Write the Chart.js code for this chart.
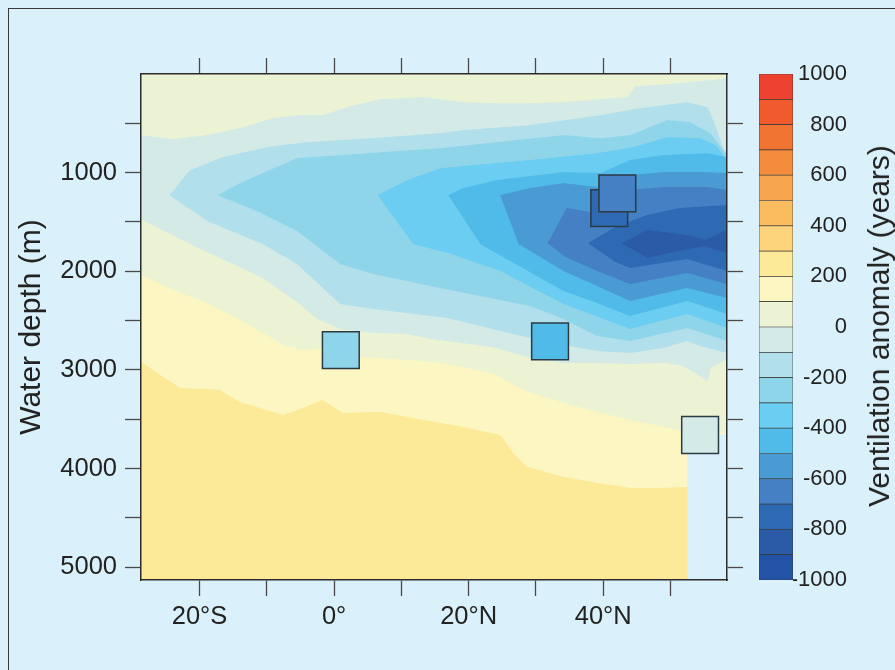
<!DOCTYPE html>
<html>
<head>
<meta charset="utf-8">
<script src="https://cdn.jsdelivr.net/npm/chart.js@4.4.0/dist/chart.umd.min.js"></script>
<style>
  html, body { margin: 0; padding: 0; }
  body {
    width: 895px; height: 670px; overflow: hidden; position: relative;
    background: #daf0fa;
    font-family: "Liberation Sans", Arial, sans-serif;
  }
  #frame {
    position: absolute; left: 8px; top: 8px; width: 920px; height: 700px;
    border-left: 1px solid #3a3a3a; border-top: 1px solid #3a3a3a;
  }
  #main { position: absolute; left: 0; top: 0; }
  #bar  { position: absolute; left: 740px; top: 0; }
  #barTitle {
    position: absolute; left: 879px; top: 326px;
    transform: translate(-50%, -50%) rotate(-90deg);
    white-space: nowrap; font-size: 30px; color: #222;
  }
</style>
</head>
<body>
<div id="frame"></div>
<canvas id="main" width="895" height="670"></canvas>
<canvas id="bar" width="155" height="670"></canvas>
<div id="barTitle">Ventilation anomaly (years)</div>

<script>
/* ============================================================
   DATA  (latitude in degrees, negative = south; depth in metres)
   ============================================================ */
const xMin = -28.7, xMax = 58.4;
const yMin = 0,     yMax = 5130;

const xTicks      = [-20, -10, 0, 10, 20, 30, 40, 50];
const xTickLabels = ['20°S', '', '0°', '', '20°N', '', '40°N', ''];
const yTicks      = [500, 1000, 1500, 2000, 2500, 3000, 3500, 4000, 4500, 5000];
const yTickLabels = ['', '1000', '', '2000', '', '3000', '', '4000', '', '5000'];

// colour scale: level edges and one colour per interval
const levels = [-1000, -900, -800, -700, -600, -500, -400, -300, -200, -100, 0,
                100, 200, 300, 400, 500, 600, 700, 800, 900, 1000];
const levelColors = [
  '#2353a5', '#2b5aa6', '#2e6ab4', '#4480c3', '#4a9bd4',
  '#50bbe9', '#6acdf1', '#8fd5ea', '#b1dfec', '#d3eae6',
  '#ecf3d5', '#fcf7c2', '#fdea99', '#fdd47c', '#fbbc5f',
  '#f8a54f', '#f58c3d', '#f27432', '#f05a2c', '#ee4230',
];

// filled contour regions, [lat, depth] outlines
const domain = [[-28.7, 0], [58.4, 0], [58.4, 5130], [-28.7, 5130]];

const above100 = [[-28.7, 2043], [-23.9, 2195], [-18.9, 2327], [-14.4, 2479], [-10.6, 2630],
  [-7.6, 2752], [-4.6, 2803], [-1.6, 2782], [3.9, 2874], [10.9, 2904], [15.8, 2934],
  [19.2, 2975], [24.2, 3056], [28.1, 3208], [34.1, 3340], [39.1, 3431], [44.0, 3512],
  [48.9, 3583], [52.5, 3633], [58.4, 3643], [58.4, 5130], [-28.7, 5130]];

const above200 = [[-28.7, 2924], [-22.9, 3188], [-17.0, 3208], [-14.0, 3330], [-11.0, 3391],
  [-7.6, 3462], [-4.6, 3391], [-1.8, 3309], [1.3, 3441], [6.8, 3431], [10.9, 3482],
  [15.8, 3542], [19.2, 3583], [24.7, 3664], [26.6, 3846], [28.7, 3988], [34.1, 4090],
  [39.1, 4150], [44.0, 4201], [48.9, 4201], [52.5, 4191], [58.4, 4191], [58.4, 5130],
  [-28.7, 5130]];

const below0 = [[-28.7, 625], [-23.9, 666], [-18.9, 625], [-14.0, 554], [-9.1, 453],
  [-5.5, 423], [-1.6, 423], [1.9, 342], [6.8, 261], [13.2, 241], [19.2, 291], [24.2, 301],
  [29.1, 301], [34.1, 291], [39.6, 261], [43.6, 241], [44.8, 129], [49.5, 109], [55.9, 68],
  [58.4, 48], [58.4, 2884], [55.9, 2975], [55.5, 3107], [51.9, 2954], [48.9, 2924],
  [44.0, 2934], [39.1, 2924], [34.1, 2924], [29.1, 2874], [24.2, 2772], [19.2, 2722],
  [14.3, 2681], [10.9, 2630], [5.8, 2620], [0.9, 2580], [-2.5, 2479], [-5.1, 2327],
  [-10.6, 2063], [-21.4, 1719], [-28.7, 1466]];

const below100 = [[-24.4, 1233], [-21.4, 980], [-16.5, 848], [-10.0, 747], [-4.0, 696],
  [5.8, 656], [15.8, 605], [19.2, 575], [29.1, 524], [39.6, 423], [44.5, 362], [52.5, 291],
  [55.5, 342], [56.7, 544], [57.7, 747], [58.4, 808], [58.4, 2823], [54.4, 2752],
  [52.5, 2701], [48.9, 2772], [44.0, 2823], [39.1, 2803], [35.1, 2752], [29.1, 2671],
  [21.7, 2549], [16.8, 2468], [5.8, 2377], [0.9, 2327], [-5.5, 1921], [-10.6, 1718],
  [-18.9, 1486]];

const below200 = [[-17.2, 1233], [-14.0, 1111], [-5.5, 858], [0.9, 828], [15.8, 757],
  [24.2, 696], [34.1, 625], [39.6, 656], [44.0, 625], [49.5, 473], [52.9, 494], [55.9, 605],
  [58.4, 828], [58.4, 2701], [52.5, 2570], [44.0, 2701], [39.1, 2651], [34.1, 2479],
  [29.1, 2347], [21.7, 2246], [14.3, 2144], [5.8, 2023], [0.9, 1921], [-5.5, 1587],
  [-10.6, 1415]];

const below300 = [[6.5, 1233], [10.9, 1081], [15.8, 960], [29.1, 878], [39.1, 808],
  [44.5, 747], [49.5, 646], [54.4, 656], [56.7, 726], [58.4, 878], [58.4, 2570],
  [52.5, 2428], [44.0, 2580], [34.1, 2327], [24.7, 1992], [17.0, 1810], [11.7, 1718]];

const below400 = [[17.0, 1233], [19.2, 1162], [24.2, 1081], [34.1, 1000], [39.6, 1010],
  [44.0, 878], [48.9, 828], [55.5, 808], [58.4, 848], [58.4, 2428], [52.5, 2296],
  [44.0, 2448], [39.1, 2317], [34.1, 2195], [21.7, 1718]];

const below500 = [[24.7, 1233], [29.1, 1162], [34.1, 1111], [39.1, 1151], [44.0, 1030],
  [48.9, 1000], [55.5, 1000], [58.4, 1010], [58.4, 2266], [52.5, 2164], [44.0, 2296],
  [39.1, 2144], [34.1, 1992], [27.4, 1718]];

const below600 = [[31.8, 1718], [34.6, 1364], [38.1, 1405], [44.0, 1182], [48.9, 1151],
  [55.5, 1151], [58.4, 1182], [58.4, 2124], [52.5, 2012], [44.0, 2124], [39.1, 1992],
  [34.1, 1840]];

const below700 = [[37.8, 1718], [41.5, 1567], [46.5, 1435], [51.4, 1364], [58.4, 1334],
  [58.4, 1992], [52.5, 1871], [44.0, 1962], [41.5, 1891]];

const below800 = [[42.8, 1718], [46.5, 1587], [52.5, 1638], [55.2, 1688], [57.4, 1617],
  [58.4, 1587], [58.4, 1810], [57.4, 1790], [55.2, 1739], [52.5, 1769], [46.5, 1861]];

// area without model data (bottom right)
const noData = [[52.5, 3660], [58.4, 3660], [58.4, 5130], [52.5, 5130]];

// proxy sites drawn as squares
const siteLat   = [1.0, 32.1, 40.9, 42.1, 54.4];
const siteDepth = [2800, 2710, 1360, 1210, 3660];
const siteValue = [-250, -450, -750, -650, -50];

/* ============================================================
   HELPERS
   ============================================================ */
Chart.defaults.font.family = '"Liberation Sans", Arial, sans-serif';
Chart.defaults.color = '#222';

function colorFor(v) {
  let i = Math.floor((v - levels[0]) / 100);
  i = Math.max(0, Math.min(levelColors.length - 1, i));
  return levelColors[i];
}

const toPts = poly => poly.map(p => ({ x: p[0], y: p[1] }));

function regionDataset(poly, color) {
  return {
    data: toPts(poly),
    showLine: true,
    fill: 'shape',
    backgroundColor: color,
    borderColor: color,
    borderWidth: 1,
    pointRadius: 0,
    pointHoverRadius: 0,
    tension: 0,
  };
}

// drawn bottom to top
const regions = [
  [domain, 50], [above100, 150], [above200, 250],
  [below0, -50], [below100, -150], [below200, -250], [below300, -350],
  [below400, -450], [below500, -550], [below600, -650], [below700, -750],
  [below800, -850],
];

/* ============================================================
   MAIN SECTION PLOT
   ============================================================ */
const datasets = [
  {
    data: siteLat.map((x, i) => ({ x: x, y: siteDepth[i] })),
    showLine: false,
    pointStyle: 'rect',
    pointRadius: 26,
    pointHoverRadius: 26,
    backgroundColor: siteValue.map(colorFor),
    borderColor: '#2c3a44',
    borderWidth: 1.5,
  },
  regionDataset(noData, '#daf0fa'),
];
regions.slice().reverse().forEach(r => datasets.push(regionDataset(r[0], colorFor(r[1]))));

const tickGrid = { drawOnChartArea: false, tickLength: 16, tickColor: '#4a4a4a', tickWidth: 1.3 };
const frameBorder = { display: true, color: '#2b2b2b', width: 1.5, z: 1 };

new Chart(document.getElementById('main'), {
  type: 'scatter',
  data: { datasets: datasets },
  options: {
    responsive: false,
    animation: false,
    events: [],
    layout: { padding: { left: 0, top: 58, right: 152, bottom: 0 } },
    plugins: { legend: { display: false }, tooltip: { enabled: false } },
    scales: {
      x: {
        type: 'linear', position: 'bottom', min: xMin, max: xMax,
        afterBuildTicks: a => { a.ticks = xTicks.map(v => ({ value: v })); },
        afterFit: a => { a.height = 90; },
        ticks: {
          callback: (v, i) => xTickLabels[i],
          font: { size: 25.5 }, color: '#222', padding: 6,
          maxRotation: 0, autoSkip: false,
        },
        grid: tickGrid,
        border: frameBorder,
      },
      xTop: {
        type: 'linear', position: 'top', min: xMin, max: xMax,
        afterBuildTicks: a => { a.ticks = xTicks.map(v => ({ value: v })); },
        afterFit: a => { a.height = 16; },
        ticks: { display: false },
        grid: tickGrid,
        border: frameBorder,
      },
      y: {
        type: 'linear', position: 'left', reverse: true, min: yMin, max: yMax,
        afterBuildTicks: a => { a.ticks = yTicks.map(v => ({ value: v })); },
        afterFit: a => { a.width = 141; },
        ticks: {
          callback: (v, i) => yTickLabels[i],
          font: { size: 25.5 }, color: '#222', padding: 8, autoSkip: false,
        },
        grid: tickGrid,
        border: frameBorder,
        title: {
          display: true, text: 'Water depth (m)',
          font: { size: 30 }, color: '#222', padding: { top: 14, bottom: 0 },
        },
      },
      yRight: {
        type: 'linear', position: 'right', reverse: true, min: yMin, max: yMax,
        afterBuildTicks: a => { a.ticks = yTicks.map(v => ({ value: v })); },
        afterFit: a => { a.width = 16; },
        ticks: { display: false },
        grid: tickGrid,
        border: frameBorder,
      },
    },
  },
});

/* ============================================================
   COLOUR BAR
   ============================================================ */
new Chart(document.getElementById('bar'), {
  type: 'bar',
  data: {
    labels: [''],
    datasets: levelColors.map((c, i) => ({
      data: [[levels[i], levels[i + 1]]],
      backgroundColor: c,
      borderColor: '#3a3a3a',
      borderWidth: 0.7,
      borderSkipped: false,
      grouped: false,
      barPercentage: 1,
      categoryPercentage: 1,
    })),
  },
  options: {
    responsive: false,
    animation: false,
    events: [],
    layout: { padding: { left: 19, top: 74, right: 48, bottom: 90 } },
    plugins: { legend: { display: false }, tooltip: { enabled: false } },
    scales: {
      x: { display: false },
      y: {
        position: 'right', min: -1000, max: 1000,
        afterFit: a => { a.width = 54; },
        ticks: {
          stepSize: 200, font: { size: 22 }, color: '#222', padding: 0, crossAlign: 'far',
          callback: v => String(v),
        },
        grid: { display: false, drawTicks: false },
        border: { display: false },
      },
    },
  },
});
</script>
</body>
</html>
